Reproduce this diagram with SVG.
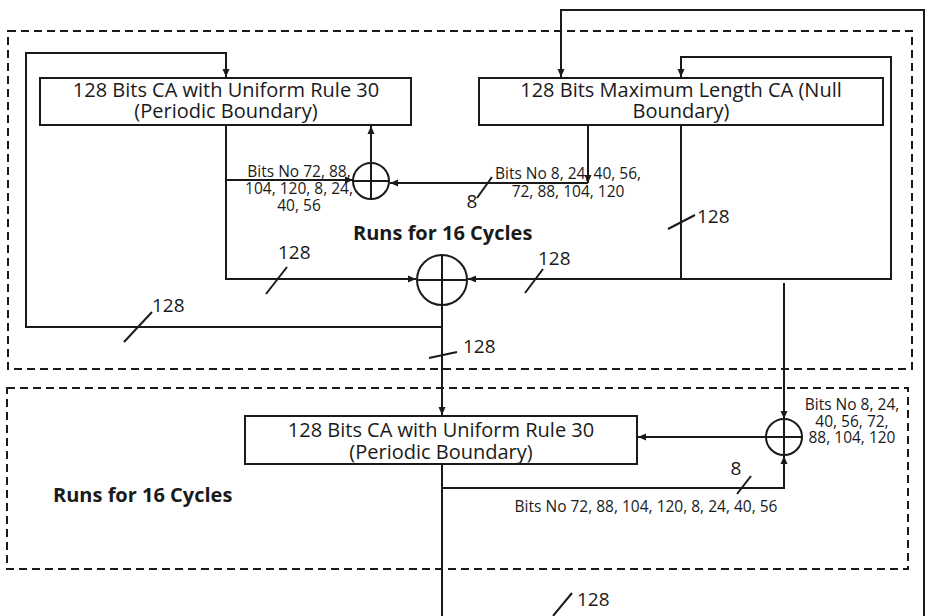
<svg xmlns="http://www.w3.org/2000/svg" width="925" height="616" viewBox="0 0 925 616">
<defs>
<marker id="arr" markerUnits="userSpaceOnUse" markerWidth="9" markerHeight="8" refX="8" refY="4" orient="auto">
<path d="M0,0.5 L8,4 L0,7.5 z" fill="#1a1a1a"/>
</marker>
<style>
.ln{fill:none;stroke:#1a1a1a;stroke-width:2}
.box{fill:#fff;stroke:#1a1a1a;stroke-width:2}
.dash{fill:none;stroke:#1a1a1a;stroke-width:2;stroke-dasharray:8 5}
.xor{fill:#fff;stroke:#1a1a1a;stroke-width:2}
.t{font-family:"Open Sans","Liberation Sans",sans-serif;fill:#1a1a1a}
.big{font-size:20px}
.mid{font-size:19px}
.sm{font-size:15.5px}
.b{font-size:20px;font-weight:700}
</style>
</defs>
<rect width="925" height="616" fill="#fff"/>
<g id="regions">
<rect class="dash" x="8" y="31" width="904" height="338"/>
<rect class="dash" x="7" y="388" width="901" height="181"/>
</g>
<g id="connectors">
<path class="ln" d="M442,327 H26 V53 H226 V77" marker-end="url(#arr)"/>
<path class="ln" d="M226,125 V279 H416" marker-end="url(#arr)"/>
<path class="ln" d="M226,180 H353" marker-end="url(#arr)"/>
<path class="ln" d="M371,163 V126" marker-end="url(#arr)"/>
<path class="ln" d="M588,125 V183" marker-end="url(#arr)"/>
<path class="ln" d="M588,183 H390" marker-end="url(#arr)"/>
<path class="ln" d="M681,125 V279 H468" marker-end="url(#arr)"/>
<path class="ln" d="M681,279 H891 V57 H681 V77" marker-end="url(#arr)"/>
<path class="ln" d="M924,616 V10 H561 V77" marker-end="url(#arr)"/>
<path class="ln" d="M442,305 V415" marker-end="url(#arr)"/>
<path class="ln" d="M784,283 V419" marker-end="url(#arr)"/>
<path class="ln" d="M766,437 H638" marker-end="url(#arr)"/>
<path class="ln" d="M442,464 V616"/>
<path class="ln" d="M442,488 H784 V456" marker-end="url(#arr)"/>
<g id="ticks">
<line class="ln" x1="477" y1="198" x2="492" y2="177"/>
<line class="ln" x1="266" y1="294" x2="287" y2="267"/>
<line class="ln" x1="124" y1="342" x2="152" y2="312"/>
<line class="ln" x1="525" y1="293" x2="543" y2="269"/>
<line class="ln" x1="668" y1="229" x2="695" y2="215"/>
<line class="ln" x1="429" y1="358" x2="457" y2="352"/>
<line class="ln" x1="737" y1="494" x2="751" y2="476"/>
<line class="ln" x1="553" y1="616" x2="572" y2="593"/>
</g>
</g>
<g id="ca30-top">
<rect class="box" x="40" y="78" width="371" height="47"/>
<text class="t big" text-anchor="middle"><tspan x="226" y="97">128 Bits CA with Uniform Rule 30</tspan><tspan x="226" y="118">(Periodic Boundary)</tspan></text>
</g>
<g id="maxlen-ca">
<rect class="box" x="479" y="78" width="404" height="47"/>
<text class="t big" text-anchor="middle"><tspan x="681" y="97">128 Bits Maximum Length CA (Null</tspan><tspan x="681" y="118">Boundary)</tspan></text>
</g>
<g id="ca30-bottom">
<rect class="box" x="245" y="416" width="392" height="48"/>
<text class="t big" text-anchor="middle"><tspan x="441" y="437">128 Bits CA with Uniform Rule 30</tspan><tspan x="441" y="459">(Periodic Boundary)</tspan></text>
</g>
<g id="xor1">
<circle class="xor" cx="371" cy="181" r="18"/>
<path class="ln" d="M353,181 H389 M371,163 V199"/>
</g>
<g id="xor2">
<circle class="xor" cx="442" cy="280" r="25"/>
<path class="ln" d="M417,280 H467 M442,255 V305"/>
</g>
<g id="xor3">
<circle class="xor" cx="784" cy="437" r="18"/>
<path class="ln" d="M766,437 H802 M784,419 V455"/>
</g>
<g id="labels">
<text class="t sm" text-anchor="middle"><tspan x="299" y="177">Bits No 72, 88,</tspan><tspan x="299" y="194">104, 120, 8, 24,</tspan><tspan x="299" y="211">40, 56</tspan></text>
<text class="t sm" text-anchor="middle"><tspan x="568" y="179">Bits No 8, 24, 40, 56,</tspan><tspan x="568" y="197">72, 88, 104, 120</tspan></text>
<text class="t sm" text-anchor="middle"><tspan x="852" y="410">Bits No 8, 24,</tspan><tspan x="852" y="427">40, 56, 72,</tspan><tspan x="852" y="443">88, 104, 120</tspan></text>
<text class="t sm" text-anchor="middle" x="646" y="512">Bits No 72, 88, 104, 120, 8, 24, 40, 56</text>
<text class="t mid" text-anchor="middle" x="472" y="208">8</text>
<text class="t mid" text-anchor="middle" x="736" y="475">8</text>
<text class="t mid" x="278" y="259">128</text>
<text class="t mid" x="152" y="312">128</text>
<text class="t mid" x="538" y="265">128</text>
<text class="t mid" x="697" y="223">128</text>
<text class="t mid" x="463" y="353">128</text>
<text class="t mid" x="577" y="606">128</text>
<text class="t b" x="353" y="240">Runs for 16 Cycles</text>
<text class="t b" x="53" y="502">Runs for 16 Cycles</text>
</g>
</svg>
